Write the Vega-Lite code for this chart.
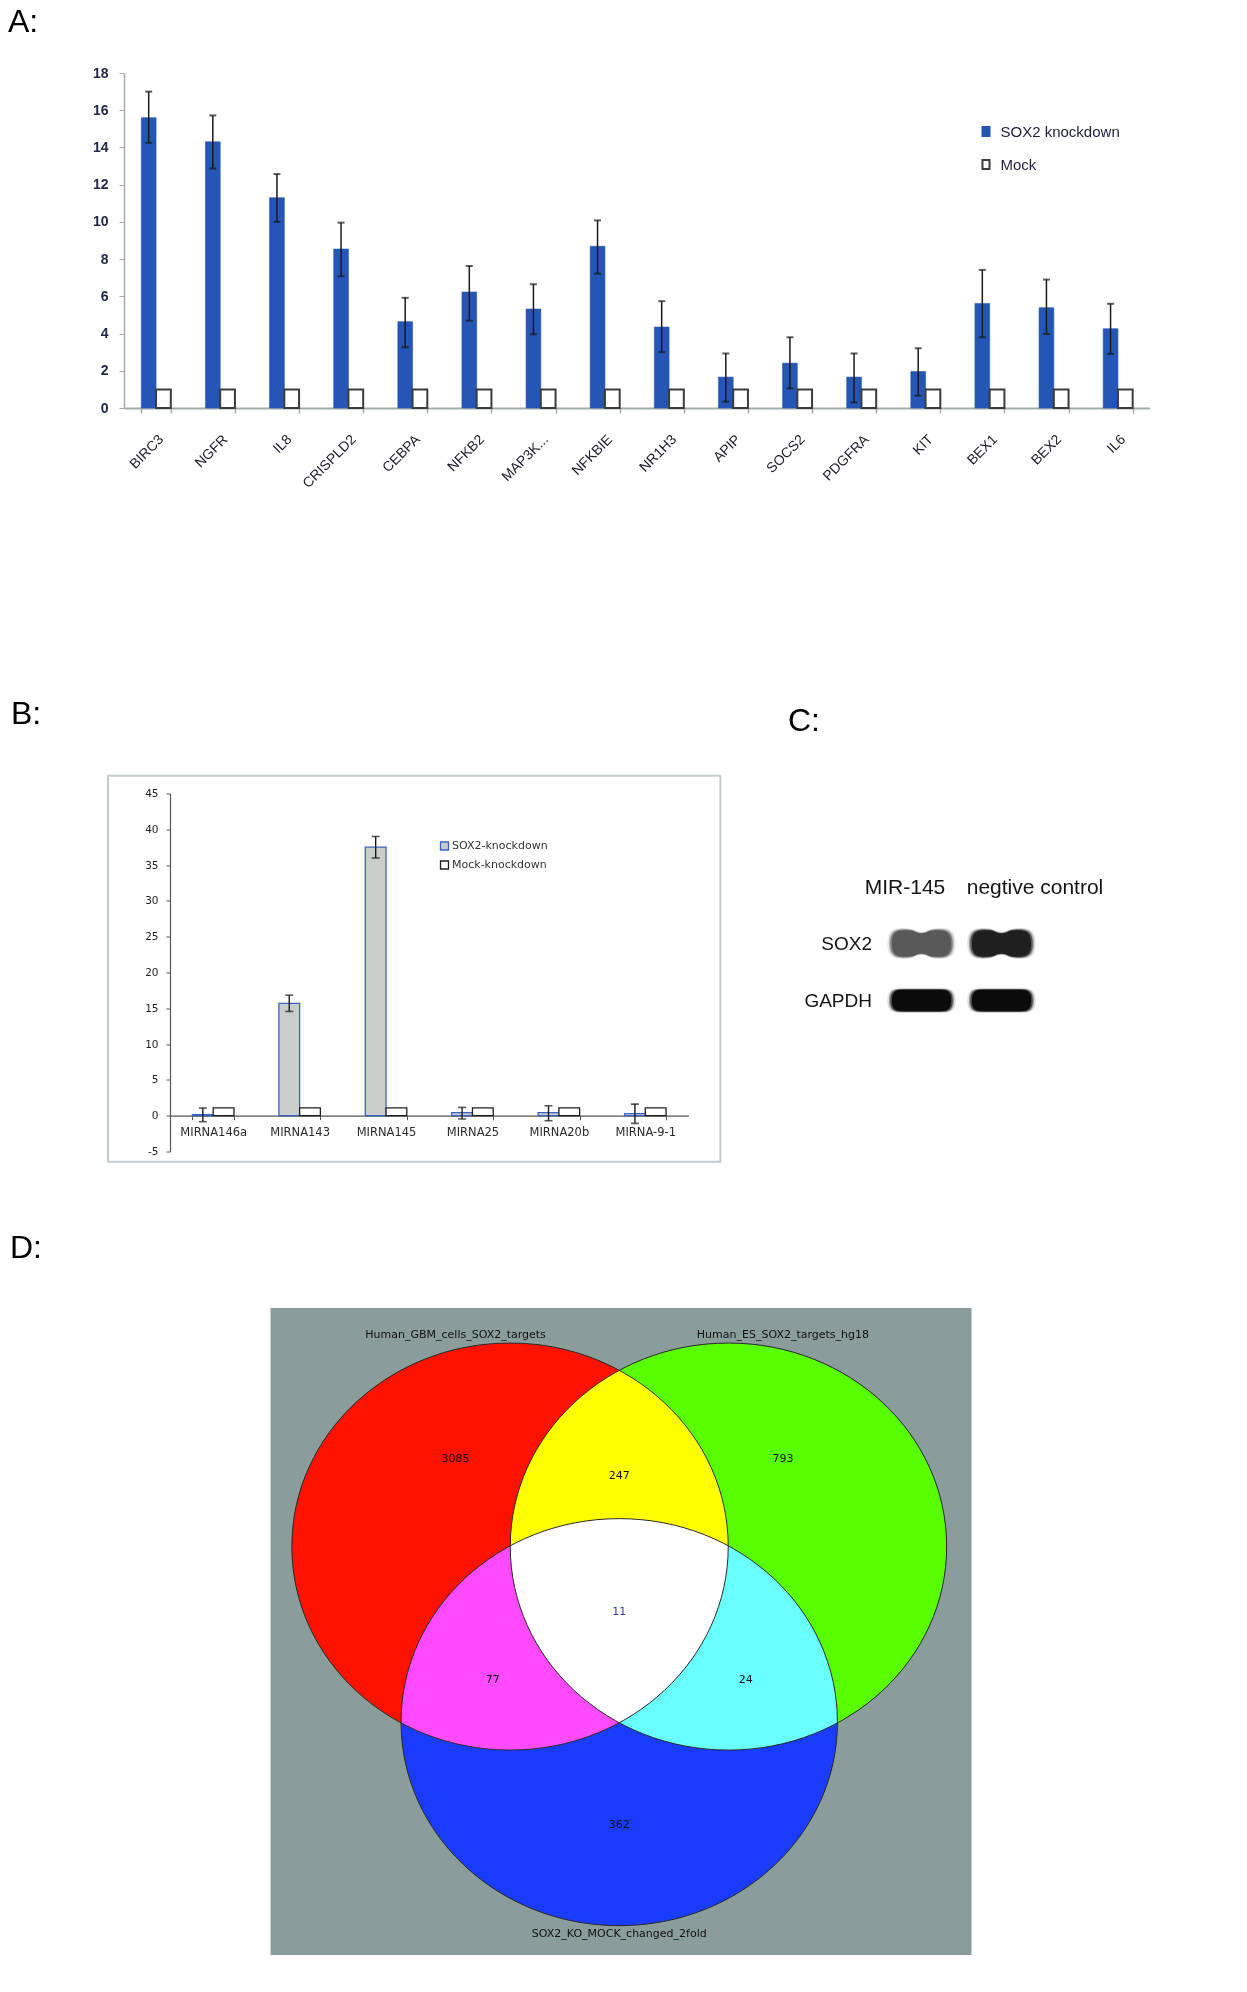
{
  "$schema": "https://vega.github.io/schema/vega-lite/v6.json",
  "background": "white",
  "padding": {"left": 8, "top": 6, "right": 0, "bottom": 0},
  "config": {
    "view": {"stroke": null},
    "axis": {"grid": false, "labelOverlap": false},
    "axisY": {"labelOverlap": false},
    "title": {"font": "Liberation Sans", "fontSize": 32, "fontWeight": "normal", "color": "#000000", "anchor": "start", "frame": "group"}
  },
  "datasets": {
    "panelA": [
      {"gene": "BIRC3", "group": "SOX2 knockdown", "value": 15.6, "low": 14.25, "high": 17.0},
      {"gene": "BIRC3", "group": "Mock", "value": 1},
      {"gene": "NGFR", "group": "SOX2 knockdown", "value": 14.3, "low": 12.87, "high": 15.72},
      {"gene": "NGFR", "group": "Mock", "value": 1},
      {"gene": "IL8", "group": "SOX2 knockdown", "value": 11.3, "low": 10.0, "high": 12.57},
      {"gene": "IL8", "group": "Mock", "value": 1},
      {"gene": "CRISPLD2", "group": "SOX2 knockdown", "value": 8.54, "low": 7.08, "high": 9.96},
      {"gene": "CRISPLD2", "group": "Mock", "value": 1},
      {"gene": "CEBPA", "group": "SOX2 knockdown", "value": 4.64, "low": 3.26, "high": 5.92},
      {"gene": "CEBPA", "group": "Mock", "value": 1},
      {"gene": "NFKB2", "group": "SOX2 knockdown", "value": 6.23, "low": 4.69, "high": 7.63},
      {"gene": "NFKB2", "group": "Mock", "value": 1},
      {"gene": "MAP3K...", "group": "SOX2 knockdown", "value": 5.32, "low": 3.96, "high": 6.65},
      {"gene": "MAP3K...", "group": "Mock", "value": 1},
      {"gene": "NFKBIE", "group": "SOX2 knockdown", "value": 8.69, "low": 7.22, "high": 10.08},
      {"gene": "NFKBIE", "group": "Mock", "value": 1},
      {"gene": "NR1H3", "group": "SOX2 knockdown", "value": 4.35, "low": 3.0, "high": 5.74},
      {"gene": "NR1H3", "group": "Mock", "value": 1},
      {"gene": "APIP", "group": "SOX2 knockdown", "value": 1.66, "low": 0.34, "high": 2.93},
      {"gene": "APIP", "group": "Mock", "value": 1},
      {"gene": "SOCS2", "group": "SOX2 knockdown", "value": 2.41, "low": 1.05, "high": 3.8},
      {"gene": "SOCS2", "group": "Mock", "value": 1},
      {"gene": "PDGFRA", "group": "SOX2 knockdown", "value": 1.66, "low": 0.3, "high": 2.93},
      {"gene": "PDGFRA", "group": "Mock", "value": 1},
      {"gene": "KIT", "group": "SOX2 knockdown", "value": 1.96, "low": 0.66, "high": 3.21},
      {"gene": "KIT", "group": "Mock", "value": 1},
      {"gene": "BEX1", "group": "SOX2 knockdown", "value": 5.62, "low": 3.8, "high": 7.42},
      {"gene": "BEX1", "group": "Mock", "value": 1},
      {"gene": "BEX2", "group": "SOX2 knockdown", "value": 5.39, "low": 3.98, "high": 6.9},
      {"gene": "BEX2", "group": "Mock", "value": 1},
      {"gene": "IL6", "group": "SOX2 knockdown", "value": 4.26, "low": 2.91, "high": 5.6},
      {"gene": "IL6", "group": "Mock", "value": 1}
    ],
    "panelB": [
      {"mirna": "MIRNA146a", "group": "SOX2-knockdown", "value": 0.15, "low": -0.83, "high": 1.07},
      {"mirna": "MIRNA146a", "group": "Mock-knockdown", "value": 1.1},
      {"mirna": "MIRNA143", "group": "SOX2-knockdown", "value": 15.68, "low": 14.56, "high": 16.84},
      {"mirna": "MIRNA143", "group": "Mock-knockdown", "value": 1.1},
      {"mirna": "MIRNA145", "group": "SOX2-knockdown", "value": 37.52, "low": 35.99, "high": 39.0},
      {"mirna": "MIRNA145", "group": "Mock-knockdown", "value": 1.1},
      {"mirna": "MIRNA25", "group": "SOX2-knockdown", "value": 0.42, "low": -0.46, "high": 1.16},
      {"mirna": "MIRNA25", "group": "Mock-knockdown", "value": 1.1},
      {"mirna": "MIRNA20b", "group": "SOX2-knockdown", "value": 0.42, "low": -0.7, "high": 1.39},
      {"mirna": "MIRNA20b", "group": "Mock-knockdown", "value": 1.1},
      {"mirna": "MIRNA-9-1", "group": "SOX2-knockdown", "value": 0.28, "low": -1.07, "high": 1.62},
      {"mirna": "MIRNA-9-1", "group": "Mock-knockdown", "value": 1.1}
    ],
    "blot": [
      {"protein": "SOX2", "lane": "MIR-145", "intensity": 0.62},
      {"protein": "SOX2", "lane": "negtive control", "intensity": 0.88},
      {"protein": "GAPDH", "lane": "MIR-145", "intensity": 0.97},
      {"protein": "GAPDH", "lane": "negtive control", "intensity": 0.97}
    ],
    "vennSets": [
      {"set": "Human_GBM_cells_SOX2_targets", "cx": 34.17, "cy": 36.87},
      {"set": "Human_ES_SOX2_targets_hg18", "cx": 65.33, "cy": 36.87},
      {"set": "SOX2_KO_MOCK_changed_2fold", "cx": 49.75, "cy": 64.01}
    ],
    "vennText": [
      {"label": "Human_GBM_cells_SOX2_targets", "x": 26.4, "y": 4.1},
      {"label": "Human_ES_SOX2_targets_hg18", "x": 73.1, "y": 4.1},
      {"label": "SOX2_KO_MOCK_changed_2fold", "x": 49.75, "y": 96.7},
      {"label": "3085", "x": 26.4, "y": 23.39},
      {"label": "247", "x": 49.75, "y": 26.03},
      {"label": "793", "x": 73.1, "y": 23.39},
      {"label": "11", "x": 49.75, "y": 47.0},
      {"label": "77", "x": 31.7, "y": 57.54},
      {"label": "24", "x": 67.8, "y": 57.54},
      {"label": "362", "x": 49.75, "y": 79.94}
    ]
  },
  "spacing": 69,
  "resolve": {
    "scale": {"fill": "independent", "stroke": "independent", "xOffset": "independent", "shape": "independent", "color": "independent", "strokeWidth": "independent"},
    "legend": {"fill": "independent", "stroke": "independent"}
  },
  "vconcat": [
    {
      "spacing": 206.5,
      "resolve": {
        "scale": {"fill": "independent", "stroke": "independent", "xOffset": "independent", "shape": "independent", "color": "independent", "strokeWidth": "independent"},
        "legend": {"fill": "independent", "stroke": "independent"}
      },
      "vconcat": [
        {
          "width": 1026,
          "height": 335,
          "title": {"text": "A:", "dx": -116, "offset": 27},
          "data": {"name": "panelA"},
          "layer": [
            {
              "mark": {"type": "bar"},
              "encoding": {
                "x": {
                  "field": "gene", "type": "nominal", "sort": null,
                  "scale": {"paddingInner": 0.54, "paddingOuter": 0.27},
                  "axis": {
                    "title": null, "labelAngle": -45, "labelAlign": "right", "labelBaseline": "top",
                    "labelPadding": 19, "labelFont": "Liberation Sans", "labelFontSize": 14, "labelColor": "#1c1c2c",
                    "labelOverlap": false, "tickBand": "extent", "tickSize": 5, "tickWidth": 1.5,
                    "tickColor": "#a3abab", "domainColor": "#a3abab", "domainWidth": 2
                  }
                },
                "xOffset": {"field": "group", "type": "nominal", "sort": null, "scale": {"domain": ["SOX2 knockdown", "Mock"]}},
                "y": {
                  "field": "value", "type": "quantitative",
                  "scale": {"domain": [0, 18], "nice": false},
                  "axis": {
                    "title": null, "values": [0, 2, 4, 6, 8, 10, 12, 14, 16, 18], "labelOverlap": false,
                    "labelFont": "Liberation Sans", "labelFontSize": 14, "labelFontWeight": "bold", "labelColor": "#23284a",
                    "labelPadding": 11, "tickSize": 5, "tickColor": "#a3abab", "domainColor": "#a3abab", "domainWidth": 1.5
                  }
                },
                "fill": {
                  "field": "group", "type": "nominal",
                  "scale": {"domain": ["SOX2 knockdown", "Mock"], "range": ["#2456b5", "#ffffff"]},
                  "legend": {"title": null, "orient": "none", "legendX": 854.5, "legendY": 51, "symbolType": "M-0.78,-1H0.78V1H-0.78Z", "symbolSize": 81, "symbolStrokeWidth": 2, "labelFont": "Liberation Sans", "labelFontSize": 15, "labelColor": "#1d1d3a", "labelOffset": 7, "rowPadding": 16, "padding": 0}
                },
                "stroke": {
                  "field": "group", "type": "nominal",
                  "scale": {"domain": ["SOX2 knockdown", "Mock"], "range": ["#2456b5", "#3c3c3c"]},
                  "legend": {"title": null, "orient": "none", "legendX": 854.5, "legendY": 51, "symbolType": "M-0.78,-1H0.78V1H-0.78Z", "symbolSize": 81, "symbolStrokeWidth": 2, "labelFont": "Liberation Sans", "labelFontSize": 15, "labelColor": "#1d1d3a", "labelOffset": 7, "rowPadding": 16, "padding": 0}
                },
                "strokeWidth": {"condition": {"test": "datum.group === 'Mock'", "value": 2}, "value": 0.6}
              }
            },
            {
              "transform": [{"filter": "datum.group === 'SOX2 knockdown'"}],
              "mark": {"type": "rule", "color": "#1a1a1a", "strokeWidth": 1.5},
              "encoding": {
                "x": {"field": "gene", "type": "nominal", "sort": null},
                "xOffset": {"field": "group", "type": "nominal", "sort": null},
                "y": {
                  "field": "low", "type": "quantitative",
                  "axis": {
                    "title": null, "values": [0, 2, 4, 6, 8, 10, 12, 14, 16, 18], "labelOverlap": false,
                    "labelFont": "Liberation Sans", "labelFontSize": 14, "labelFontWeight": "bold", "labelColor": "#23284a",
                    "labelPadding": 11, "tickSize": 5, "tickColor": "#a3abab", "domainColor": "#a3abab", "domainWidth": 1.5
                  }
                },
                "y2": {"field": "high"}
              }
            },
            {
              "transform": [
                {"filter": "datum.group === 'SOX2 knockdown'"},
                {"fold": ["low", "high"], "as": ["end", "pos"]}
              ],
              "mark": {"type": "tick", "color": "#1a1a1a", "thickness": 2, "size": 7},
              "encoding": {
                "x": {"field": "gene", "type": "nominal", "sort": null},
                "xOffset": {"field": "group", "type": "nominal", "sort": null},
                "y": {
                  "field": "pos", "type": "quantitative",
                  "axis": {
                    "title": null, "values": [0, 2, 4, 6, 8, 10, 12, 14, 16, 18], "labelOverlap": false,
                    "labelFont": "Liberation Sans", "labelFontSize": 14, "labelFontWeight": "bold", "labelColor": "#23284a",
                    "labelPadding": 11, "tickSize": 5, "tickColor": "#a3abab", "domainColor": "#a3abab", "domainWidth": 1.5
                  }
                }
              }
            }
          ]
        },
        {
          "spacing": 65.5,
          "resolve": {
            "scale": {"fill": "independent", "stroke": "independent", "xOffset": "independent", "shape": "independent", "color": "independent"},
            "legend": {"fill": "independent", "stroke": "independent"}
          },
          "hconcat": [
            {
              "width": 565,
              "height": 358,
              "title": {"text": "B:", "dx": -113, "offset": 44},
              "resolve": {"scale": {"x": "independent"}},
              "layer": [
                {
                  "data": {"values": [{}]},
                  "mark": {"type": "rect", "fill": "#ffffff", "fillOpacity": 0, "stroke": "#c3cbcf", "strokeWidth": 2},
                  "encoding": {
                    "x": {"datum": -0.7174, "type": "quantitative", "scale": {"domain": [0, 6], "range": [46, 564.5], "nice": false, "zero": false}, "axis": null},
                    "x2": {"datum": 6.369},
                    "y": {
                      "datum": -6.42, "type": "quantitative", "scale": {"domain": [-5, 45], "nice": false, "zero": false},
                      "axis": {
                        "title": null, "values": [-5, 0, 5, 10, 15, 20, 25, 30, 35, 40, 45], "offset": -46,
                        "labelOverlap": false, "labelExpr": "'' + datum.value",
                        "labelFont": "DejaVu Sans", "labelFontSize": 10.5, "labelColor": "#222222", "labelPadding": 8,
                        "tickSize": 4, "tickColor": "#555555", "domainColor": "#555555", "domainWidth": 1.2
                      }
                    },
                    "y2": {"datum": 47.48}
                  }
                },
                {
                  "data": {"name": "panelB"},
                  "layer": [
                    {
                      "mark": {"type": "bar", "strokeWidth": 1.3},
                      "encoding": {
                        "x": {
                          "field": "mirna", "type": "nominal", "sort": null,
                          "scale": {"range": [46, 564.5], "paddingInner": 0.52, "paddingOuter": 0.26},
                          "axis": {
                            "title": null, "labelAngle": 0, "offset": -35.8, "labelPadding": 7,
                            "labelFont": "DejaVu Sans", "labelFontSize": 11.5, "labelColor": "#2a2a2a",
                            "tickBand": "extent", "tickSize": 4, "tickColor": "#555555", "domainColor": "#555555", "domainWidth": 1.2
                          }
                        },
                        "xOffset": {"field": "group", "type": "nominal", "sort": null, "scale": {"domain": ["SOX2-knockdown", "Mock-knockdown"]}},
                        "y": {
                          "field": "value", "type": "quantitative",
                          "scale": {"domain": [-5, 45], "nice": false, "zero": false},
                          "axis": {
                            "title": null, "values": [-5, 0, 5, 10, 15, 20, 25, 30, 35, 40, 45], "offset": -46,
                            "labelOverlap": false, "labelExpr": "'' + datum.value",
                            "labelFont": "DejaVu Sans", "labelFontSize": 10.5, "labelColor": "#222222", "labelPadding": 8,
                            "tickSize": 4, "tickColor": "#555555", "domainColor": "#555555", "domainWidth": 1.2
                          }
                        },
                        "fill": {
                          "field": "group", "type": "nominal",
                          "scale": {"domain": ["SOX2-knockdown", "Mock-knockdown"], "range": ["#c8cec9", "#ffffff"]},
                          "legend": {"title": null, "orient": "none", "legendX": 315, "legendY": 47, "symbolType": "square", "symbolSize": 64, "symbolStrokeWidth": 1.3, "labelFont": "DejaVu Sans", "labelFontSize": 11, "labelColor": "#333333", "labelOffset": 2, "rowPadding": 4, "padding": 0}
                        },
                        "stroke": {
                          "field": "group", "type": "nominal",
                          "scale": {"domain": ["SOX2-knockdown", "Mock-knockdown"], "range": ["#3b62c6", "#1e1e1e"]},
                          "legend": {"title": null, "orient": "none", "legendX": 315, "legendY": 47, "symbolType": "square", "symbolSize": 64, "symbolStrokeWidth": 1.3, "labelFont": "DejaVu Sans", "labelFontSize": 11, "labelColor": "#333333", "labelOffset": 2, "rowPadding": 4, "padding": 0}
                        }
                      }
                    },
                    {
                      "transform": [{"filter": "datum.group === 'SOX2-knockdown'"}],
                      "mark": {"type": "rule", "color": "#1a1a1a", "strokeWidth": 1.4},
                      "encoding": {
                        "x": {"field": "mirna", "type": "nominal", "sort": null},
                        "xOffset": {"field": "group", "type": "nominal", "sort": null},
                        "y": {
                          "field": "low", "type": "quantitative",
                          "axis": {
                            "title": null, "values": [-5, 0, 5, 10, 15, 20, 25, 30, 35, 40, 45], "offset": -46,
                            "labelOverlap": false, "labelExpr": "'' + datum.value",
                            "labelFont": "DejaVu Sans", "labelFontSize": 10.5, "labelColor": "#222222", "labelPadding": 8,
                            "tickSize": 4, "tickColor": "#555555", "domainColor": "#555555", "domainWidth": 1.2
                          }
                        },
                        "y2": {"field": "high"}
                      }
                    },
                    {
                      "transform": [
                        {"filter": "datum.group === 'SOX2-knockdown'"},
                        {"fold": ["low", "high"], "as": ["end", "pos"]}
                      ],
                      "mark": {"type": "tick", "color": "#1a1a1a", "thickness": 1.6, "size": 8},
                      "encoding": {
                        "x": {"field": "mirna", "type": "nominal", "sort": null},
                        "xOffset": {"field": "group", "type": "nominal", "sort": null},
                        "y": {
                          "field": "pos", "type": "quantitative",
                          "axis": {
                            "title": null, "values": [-5, 0, 5, 10, 15, 20, 25, 30, 35, 40, 45], "offset": -46,
                            "labelOverlap": false, "labelExpr": "'' + datum.value",
                            "labelFont": "DejaVu Sans", "labelFontSize": 10.5, "labelColor": "#222222", "labelPadding": 8,
                            "tickSize": 4, "tickColor": "#555555", "domainColor": "#555555", "domainWidth": 1.2
                          }
                        }
                      }
                    }
                  ]
                }
              ]
            },
            {
              "width": 160,
              "height": 358,
              "title": {"text": "C:", "dx": -93.5, "offset": 55.5},
              "data": {"name": "blot"},
              "encoding": {
                "x": {
                  "field": "lane", "type": "nominal", "sort": null,
                  "scale": {"domain": ["MIR-145", "negtive control"], "paddingInner": 0, "paddingOuter": 0},
                  "axis": {
                    "orient": "top", "title": null, "domain": false, "ticks": false, "tickSize": 0,
                    "labelPadding": 0, "offset": -104, "labelAngle": 0,
                    "labelFont": "Liberation Sans", "labelFontSize": 21, "labelColor": "#141414",
                    "labelOffset": {"condition": {"test": "datum.value === 'MIR-145'", "value": -17}, "value": 33}
                  }
                },
                "y": {
                  "field": "protein", "type": "nominal", "sort": null,
                  "scale": {"domain": ["SOX2", "GAPDH"], "range": [121.5, 235.5], "paddingInner": 0, "paddingOuter": 0},
                  "axis": {
                    "title": null, "domain": false, "ticks": false, "tickSize": 0, "labelPadding": 10,
                    "labelFont": "Liberation Sans", "labelFontSize": 19, "labelColor": "#141414"
                  }
                },
                "shape": {
                  "field": "protein", "type": "nominal",
                  "scale": {
                    "domain": ["SOX2", "GAPDH"],
                    "range": [
                      "M-1,0C-1,-0.45,-0.75,-0.45,-0.5,-0.45C-0.2,-0.45,-0.2,-0.34,0,-0.34C0.2,-0.34,0.2,-0.45,0.5,-0.45C0.75,-0.45,1,-0.45,1,0C1,0.45,0.75,0.45,0.5,0.45C0.2,0.45,0.2,0.34,0,0.34C-0.2,0.34,-0.2,0.45,-0.5,0.45C-0.75,0.45,-1,0.45,-1,0Z",
                      "M-1,0C-1,-0.36,-0.8,-0.36,-0.55,-0.36L0.55,-0.36C0.8,-0.36,1,-0.36,1,0C1,0.36,0.8,0.36,0.55,0.36L-0.55,0.36C-0.8,0.36,-1,0.36,-1,0Z"
                    ]
                  },
                  "legend": null
                },
                "fill": {
                  "field": "intensity", "type": "quantitative",
                  "scale": {"domain": [0, 1], "range": ["#ffffff", "#000000"]},
                  "legend": null
                }
              },
              "layer": [
                {"mark": {"type": "point", "filled": true, "size": 4700, "opacity": 0.12, "strokeWidth": 0}},
                {"mark": {"type": "point", "filled": true, "size": 4250, "opacity": 0.3, "strokeWidth": 0}},
                {"mark": {"type": "point", "filled": true, "size": 3900, "opacity": 0.6, "strokeWidth": 0}},
                {"mark": {"type": "point", "filled": true, "size": 3500, "opacity": 1, "strokeWidth": 0}}
              ]
            }
          ]
        }
      ]
    },
    {
      "width": 848,
      "height": 647,
      "title": {"text": "D:", "dx": -114, "offset": 43},
      "layer": [
        {
          "data": {"values": [{}]},
          "mark": {"type": "rect", "fill": "#8b9d9a"},
          "encoding": {
            "x": {"datum": 0, "type": "quantitative", "scale": {"domain": [0, 100], "range": [146.5, 847.5], "nice": false, "zero": false}, "axis": null},
            "x2": {"datum": 100},
            "y": {"datum": 0, "type": "quantitative", "scale": {"domain": [0, 100], "range": [0, 647], "nice": false, "zero": false}, "axis": null},
            "y2": {"datum": 100}
          }
        },
        {
          "data": {"name": "vennSets"},
          "mark": {
            "type": "point", "filled": true, "opacity": 1, "strokeWidth": 0, "color": "#000000", "size": 190445,
            "shape": "M-1,0C-1,-0.5151,-0.5523,-0.9327,0,-0.9327C0.5523,-0.9327,1,-0.5151,1,0C1,0.5151,0.5523,0.9327,0,0.9327C-0.5523,0.9327,-1,0.5151,-1,0Z"
          },
          "encoding": {
            "x": {"field": "cx", "type": "quantitative", "scale": {"domain": [0, 100], "range": [146.5, 847.5], "nice": false, "zero": false}, "axis": null},
            "y": {"field": "cy", "type": "quantitative", "scale": {"domain": [0, 100], "range": [0, 647], "nice": false, "zero": false}, "axis": null}
          }
        },
        {
          "data": {"name": "vennSets"},
          "mark": {
            "type": "point", "filled": true, "opacity": 1, "strokeWidth": 0, "size": 190445, "blend": "screen",
            "shape": "M-1,0C-1,-0.5151,-0.5523,-0.9327,0,-0.9327C0.5523,-0.9327,1,-0.5151,1,0C1,0.5151,0.5523,0.9327,0,0.9327C-0.5523,0.9327,-1,0.5151,-1,0Z"
          },
          "encoding": {
            "x": {"field": "cx", "type": "quantitative", "scale": {"domain": [0, 100], "range": [146.5, 847.5], "nice": false, "zero": false}, "axis": null},
            "y": {"field": "cy", "type": "quantitative", "scale": {"domain": [0, 100], "range": [0, 647], "nice": false, "zero": false}, "axis": null},
            "fill": {
              "field": "set", "type": "nominal",
              "scale": {"domain": ["Human_GBM_cells_SOX2_targets", "Human_ES_SOX2_targets_hg18", "SOX2_KO_MOCK_changed_2fold"], "range": ["#ff1200", "#58ff00", "#1a3cff"]},
              "legend": null
            }
          }
        },
        {
          "data": {"name": "vennSets"},
          "mark": {
            "type": "point", "filled": false, "opacity": 1, "strokeWidth": 1, "color": "#2b2b2b", "size": 190445,
            "shape": "M-1,0C-1,-0.5151,-0.5523,-0.9327,0,-0.9327C0.5523,-0.9327,1,-0.5151,1,0C1,0.5151,0.5523,0.9327,0,0.9327C-0.5523,0.9327,-1,0.5151,-1,0Z"
          },
          "encoding": {
            "x": {"field": "cx", "type": "quantitative", "scale": {"domain": [0, 100], "range": [146.5, 847.5], "nice": false, "zero": false}, "axis": null},
            "y": {"field": "cy", "type": "quantitative", "scale": {"domain": [0, 100], "range": [0, 647], "nice": false, "zero": false}, "axis": null}
          }
        },
        {
          "data": {"name": "vennText"},
          "mark": {"type": "text", "font": "DejaVu Sans", "fontSize": 11, "align": "center", "baseline": "middle"},
          "encoding": {
            "x": {"field": "x", "type": "quantitative", "scale": {"domain": [0, 100], "range": [146.5, 847.5], "nice": false, "zero": false}, "axis": null},
            "y": {"field": "y", "type": "quantitative", "scale": {"domain": [0, 100], "range": [0, 647], "nice": false, "zero": false}, "axis": null},
            "text": {"field": "label"},
            "color": {"condition": {"test": "datum.label === '11'", "value": "#2c3e8c"}, "value": "#111111"}
          }
        }
      ]
    }
  ]
}
